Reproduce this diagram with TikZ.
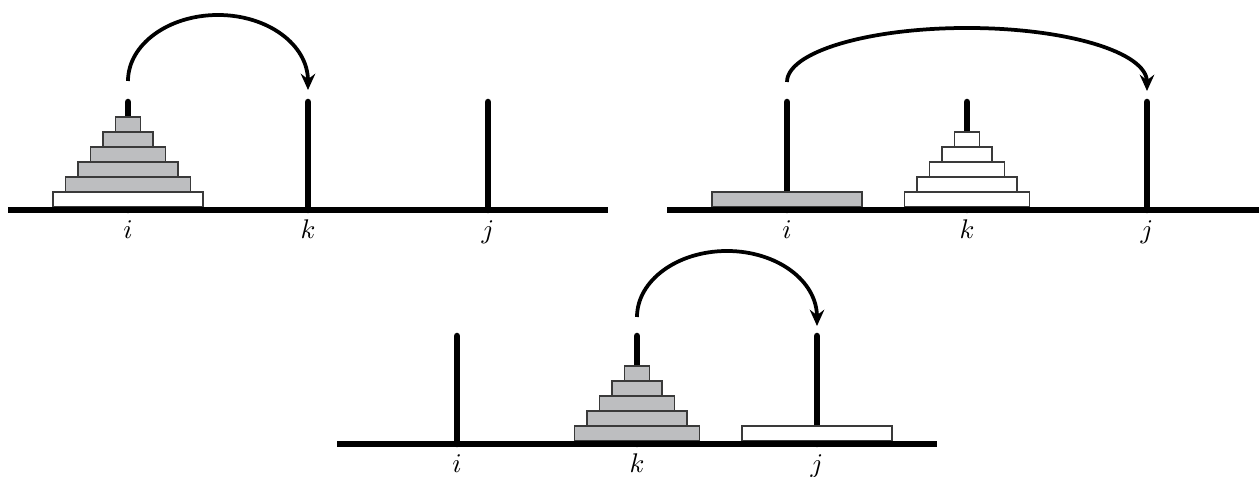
\documentclass[tikz,border=0pt]{standalone}
\usepackage{amsmath,amssymb}
\usepackage{xcolor}
\usepackage{tikz}
\usetikzlibrary{calc,arrows.meta}
\definecolor{diskgray}{HTML}{BDBEC0}
\definecolor{rimgray}{HTML}{3A3A3A}
\newcommand{\hdisk}[4]{\filldraw[disk,fill=#4] ({#1-12.5*#3},{#2}) rectangle ++({25*#3},15);}

\begin{document}
\begin{tikzpicture}[x=0.4pt,y=0.4pt,
  peg/.style={line width=2.6pt,line cap=round},
  disk/.style={draw=rimgray,line width=0.5pt},
  move/.style={line width=1.5pt,-{Stealth[length=6.5pt,width=5.8pt,inset=2.2pt]}}]
\clip (0,0) rectangle (1259,477);
% three boards: name / x of peg i / height of base
\foreach \p/\x/\y in {a/128/267,b/787/267,c/457/33}{
  \foreach \q/\dx in {i/0,k/180,j/360}{
    \draw[peg] (\x+\dx,\y)--(\x+\dx,\y+108) coordinate (\p\q);
    \node[anchor=base,scale=1.08] (l\p\q) at (\x+\dx,\y-29) {$\q$};}}
% disks
\hdisk{128}{270}{6}{white}
\foreach \n in {1,...,5} {\hdisk{128}{270+15*(6-\n)}{\n}{diskgray}}
\hdisk{787}{270}{6}{diskgray}
\foreach \n in {1,...,5} {\hdisk{967}{270+15*(5-\n)}{\n}{white}}
\foreach \n in {1,...,5} {\hdisk{637}{36+15*(5-\n)}{\n}{diskgray}}
\hdisk{817}{36}{6}{white}
% bases
\foreach \p in {a,b,c}{
  \draw[line width=2.4pt] ($(\p i)+(-120,-108)$)--($(\p j)+(120,-108)$);}
% moves
\draw[move] ($(ai)+(0,21)$) arc[start angle=180,end angle=0,x radius=90,y radius=66] -- ($(ak)+(0,12)$);
\draw[move] ($(bi)+(0,20)$) arc[start angle=180,end angle=0,x radius=180,y radius=54] -- ($(bj)+(0,11)$);
\draw[move] ($(ck)+(0,19)$) arc[start angle=180,end angle=0,x radius=90,y radius=66] -- ($(cj)+(0,10)$);
\end{tikzpicture}
\end{document}
